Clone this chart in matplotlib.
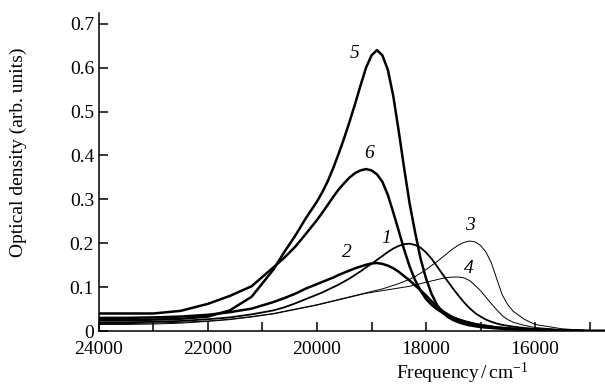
import matplotlib
matplotlib.use("Agg")
import matplotlib.pyplot as plt
from matplotlib.ticker import MultipleLocator

plt.rcParams['font.family'] = ['Liberation Serif', 'DejaVu Serif']
plt.rcParams['mathtext.fontset'] = 'custom'
plt.rcParams['mathtext.rm'] = 'Liberation Serif'
plt.rcParams['mathtext.it'] = 'Liberation Serif:italic'

# Frequency grid (cm^-1)
freq = [24000, 23500, 23000, 22500, 22000, 21600, 21200, 20800, 20600, 20400,
        20200, 20000, 19900, 19800, 19700, 19600, 19500, 19400, 19300, 19200,
        19100, 19000, 18900, 18800, 18700, 18600, 18500, 18400, 18300, 18200,
        18100, 18000, 17900, 17800, 17700, 17600, 17500, 17400, 17300, 17200,
        17100, 17000, 16900, 16800, 16700, 16600, 16500, 16400, 16200, 16000,
        15500, 15000, 14700]

# Optical density, curves 1-6
od1 = [.020, .020, .021, .023, .027, .031, .038, .047, .054, .063,
       .073, .083, .088, .094, .100, .106, .113, .120, .128, .136,
       .145, .153, .162, .171, .180, .188, .194, .198, .199, .196,
       .190, .179, .165, .148, .130, .113, .096, .080, .065, .052,
       .041, .033, .026, .021, .017, .014, .012, .010, .007, .005,
       .002, .000, .000]
od2 = [.030, .030, .031, .033, .037, .043, .051, .066, .075, .085,
       .097, .107, .112, .117, .122, .128, .133, .138, .143, .147,
       .151, .154, .155, .153, .149, .143, .135, .125, .115, .104,
       .093, .081, .068, .056, .046, .038, .031, .026, .022, .018,
       .015, .013, .011, .009, .008, .007, .006, .005, .004, .003,
       .001, .000, .000]
od3 = [.017, .017, .018, .020, .023, .027, .033, .040, .045, .050,
       .055, .060, .063, .066, .069, .072, .075, .078, .081, .084,
       .087, .090, .093, .096, .100, .104, .108, .113, .118, .124,
       .132, .140, .149, .158, .168, .178, .188, .196, .202, .205,
       .203, .195, .180, .155, .118, .082, .060, .045, .027, .015,
       .005, .001, .000]
od4 = [.015, .015, .016, .018, .022, .026, .032, .039, .044, .049,
       .054, .059, .062, .065, .068, .071, .074, .077, .080, .083,
       .086, .088, .090, .092, .094, .096, .098, .100, .102, .105,
       .108, .111, .114, .117, .120, .122, .123, .123, .121, .115,
       .104, .092, .077, .062, .048, .035, .026, .020, .013, .008,
       .003, .001, .000]
od5 = [.025, .025, .026, .028, .033, .047, .078, .140, .180, .217,
       .258, .295, .317, .342, .372, .405, .440, .478, .518, .560,
       .600, .628, .640, .628, .595, .535, .455, .370, .290, .225,
       .165, .120, .085, .060, .043, .032, .025, .020, .016, .013,
       .011, .009, .008, .007, .006, .005, .004, .004, .003, .002,
       .001, .000, .000]
od6 = [.040, .040, .040, .046, .062, .080, .102, .145, .167, .192,
       .222, .253, .270, .288, .306, .323, .337, .350, .360, .366,
       .369, .366, .357, .340, .310, .270, .228, .185, .147, .116,
       .092, .073, .060, .050, .042, .035, .030, .026, .022, .019,
       .016, .014, .012, .010, .008, .007, .006, .005, .004, .003,
       .001, .000, .000]

curves = [
    (od1, 1.3, '1', 18734, 0.210),
    (od2, 1.8, '2', 19450, 0.180),
    (od3, 0.7, '3', 17193, 0.241),
    (od4, 0.7, '4', 17211, 0.143),
    (od5, 1.8, '5', 19303, 0.633),
    (od6, 1.8, '6', 19046, 0.405),
]

fig = plt.figure(figsize=(6.05, 3.89), dpi=100)
ax = fig.add_axes([0.1636, 0.149, 0.8364, 0.817])

for od, lw, name, lx, ly in curves:
    ax.plot(freq, od, color='black', lw=lw, solid_joinstyle='round')
    ax.text(lx, ly, name, fontsize=14, style='italic', ha='center', va='center')

ax.set_xlim(24000, 14716)
ax.set_ylim(0, 0.724)
ax.xaxis.set_major_locator(MultipleLocator(2000))
ax.xaxis.set_minor_locator(MultipleLocator(1000))
ax.set_yticks([0, 0.1, 0.2, 0.3, 0.4, 0.5, 0.6, 0.7])
ax.set_yticklabels(['0', '0.1', '0.2', '0.3', '0.4', '0.5', '0.6', '0.7'])

ax.spines['top'].set_visible(False)
ax.spines['right'].set_visible(False)
ax.spines['left'].set_linewidth(1.1)
ax.spines['bottom'].set_linewidth(1.1)
ax.tick_params(which='both', direction='in', length=6.5, width=1.1, labelsize=14)
ax.tick_params(axis='x', pad=7)

ax.set_xlabel('Frequency$\\,/\\,$cm$^{-1}$', fontsize=14)
ax.xaxis.set_label_coords(0.717, -0.095)
ax.set_ylabel('Optical density (arb. units)', fontsize=14)
ax.yaxis.set_label_coords(-0.142, 0.563)

fig.savefig('out.png', dpi=100)
